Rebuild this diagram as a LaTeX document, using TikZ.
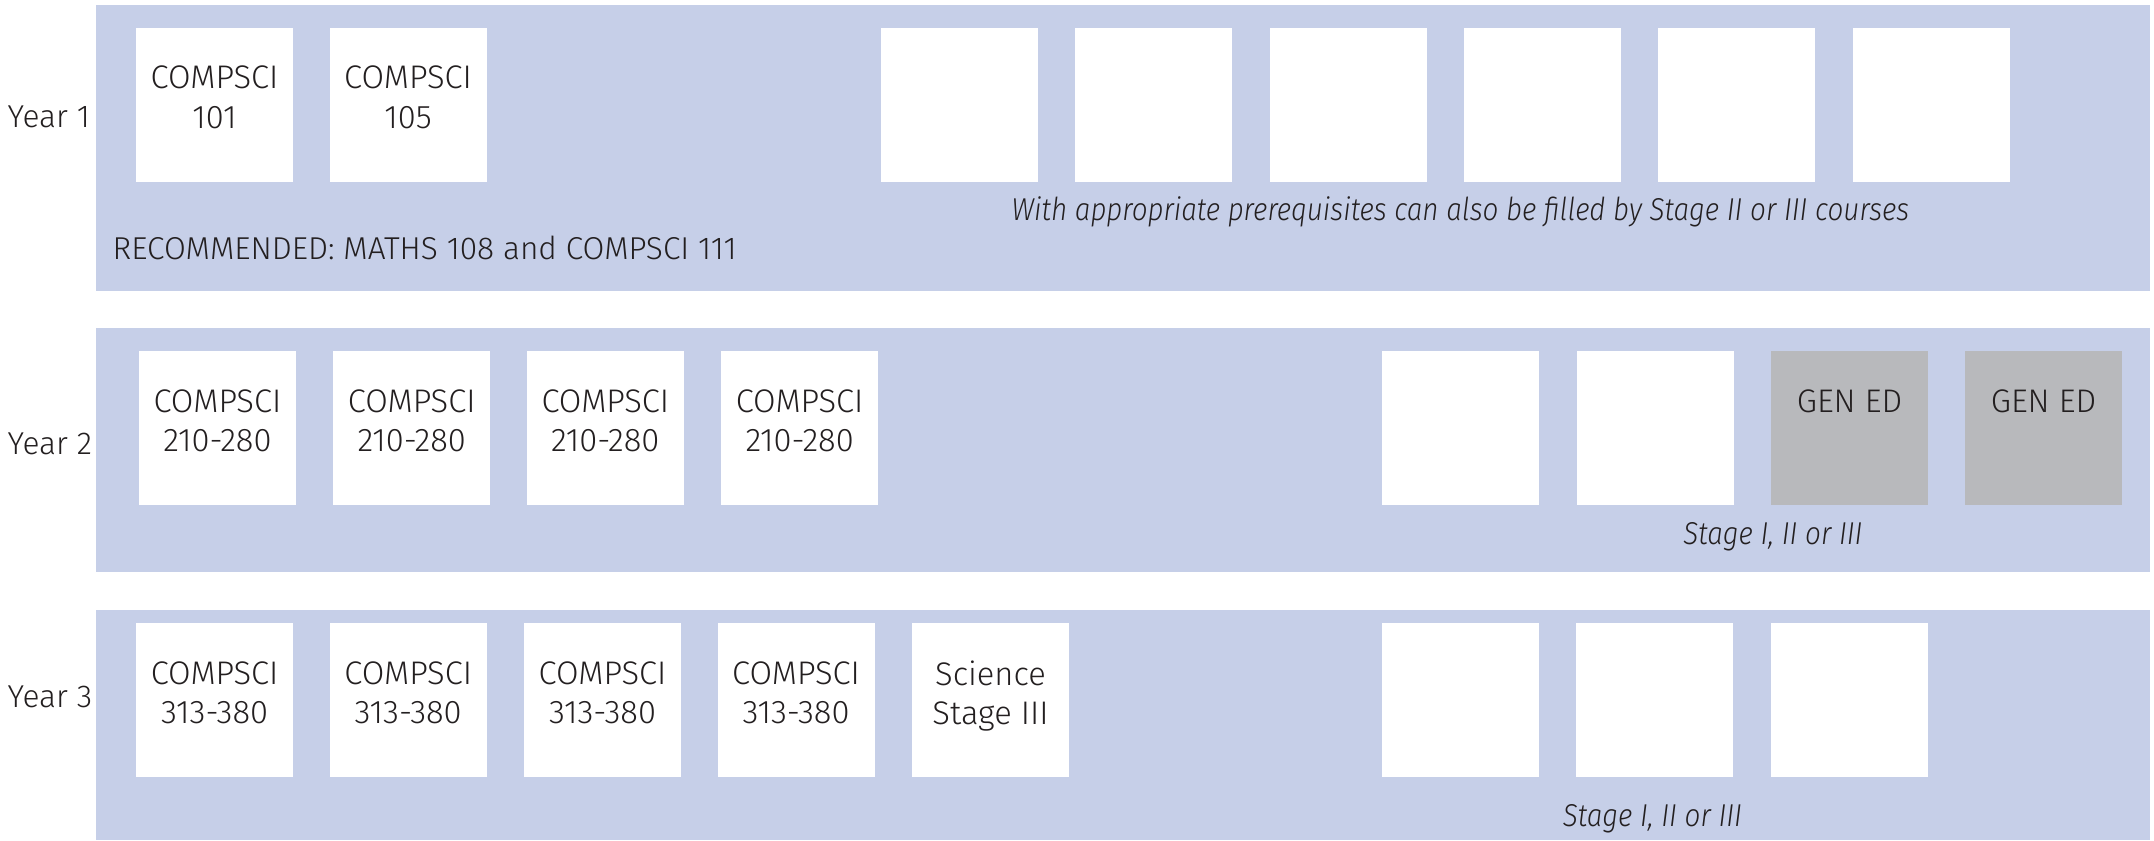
\documentclass[tikz,border=0pt]{standalone}
\usepackage{fontspec}
\setmainfont{Fira Sans Light}[ItalicFont={Fira Sans Light Italic}]
\newfontfamily\notefont{Fira Sans Light}[ItalicFont={Fira Sans Light Italic}, FakeStretch=0.88]
\definecolor{bandblue}{HTML}{C6CFE8}
\definecolor{genedgray}{HTML}{B8B9BC}
\definecolor{inkgray}{HTML}{231F20}
\tikzset{
  band/.style={fill=bandblue},
  course/.style={fill=white, minimum width=1.57cm, minimum height=1.535cm, inner sep=0pt},
  gened/.style={course, fill=genedgray},
  ctext/.style={anchor=north, yshift=-0.38cm, inner sep=0pt, align=center, text=inkgray,
    font=\fontsize{9.3}{11.1}\selectfont},
  yearlabel/.style={anchor=base west, inner sep=0pt, text=inkgray, font=\fontsize{9}{11}\selectfont},
  note/.style={anchor=base, inner sep=0pt, text=inkgray, font=\fontsize{9}{11}\selectfont\notefont\itshape}
}
\begin{document}
\begin{tikzpicture}[y=1cm, x=1cm]
\useasboundingbox (0,0) rectangle (21.54,-8.4);
\fill[band] (0.96,-0.05) rectangle (21.50,-2.905);
\fill[band] (0.96,-3.28) rectangle (21.50,-5.715);
\fill[band] (0.96,-6.10) rectangle (21.50,-8.4);
% year 1
\node[yearlabel] (y1) at (0.07,-1.273) {Year 1};
\node[course] (c101) at (2.145,-1.05) {};
\node[ctext] (c101t) at (c101.north) {COMPSCI\\101};
\node[course] (c105) at (4.08,-1.05) {};
\node[ctext] (c105t) at (c105.north) {COMPSCI\\105};
\node[course] (e11) at (9.595,-1.05) {};
\node[course] (e12) at (11.538,-1.05) {};
\node[course] (e13) at (13.481,-1.05) {};
\node[course] (e14) at (15.424,-1.05) {};
\node[course] (e15) at (17.367,-1.05) {};
\node[course] (e16) at (19.31,-1.05) {};
\node[note] (n1) at (14.605,-2.20) {With appropriate prerequisites can also be filled by Stage II or III courses};
\node[yearlabel] (rec) at (1.12,-2.593) {RECOMMENDED: MATHS 108 and COMPSCI 111};
% year 2
\node[yearlabel] (y2) at (0.07,-4.54) {Year 2};
\node[course] (c21) at (2.174,-4.28) {};
\node[ctext] (c21t) at (c21.north) {COMPSCI\\210-280};
\node[course] (c22) at (4.117,-4.28) {};
\node[ctext] (c22t) at (c22.north) {COMPSCI\\210-280};
\node[course] (c23) at (6.053,-4.28) {};
\node[ctext] (c23t) at (c23.north) {COMPSCI\\210-280};
\node[course] (c24) at (7.996,-4.28) {};
\node[ctext] (c24t) at (c24.north) {COMPSCI\\210-280};
\node[course] (e21) at (14.605,-4.28) {};
\node[course] (e22) at (16.55,-4.28) {};
\node[gened] (g1) at (18.495,-4.28) {};
\node[ctext] (g1t) at (g1.north) {GEN ED};
\node[gened] (g2) at (20.435,-4.28) {};
\node[ctext] (g2t) at (g2.north) {GEN ED};
\node[note] (n2) at (17.73,-5.443) {Stage I, II or III};
% year 3
\node[yearlabel] (y3) at (0.07,-7.073) {Year 3};
\node[course] (c31) at (2.146,-7.0) {};
\node[ctext] (c31t) at (c31.north) {COMPSCI\\313-380};
\node[course] (c32) at (4.082,-7.0) {};
\node[ctext] (c32t) at (c32.north) {COMPSCI\\313-380};
\node[course] (c33) at (6.025,-7.0) {};
\node[ctext] (c33t) at (c33.north) {COMPSCI\\313-380};
\node[course] (c34) at (7.96,-7.0) {};
\node[ctext] (c34t) at (c34.north) {COMPSCI\\313-380};
\node[course] (c35) at (9.905,-7.0) {};
\node[ctext] (c35t) at (c35.north) {Science\\Stage III};
\node[course] (e31) at (14.60,-7.0) {};
\node[course] (e32) at (16.545,-7.0) {};
\node[course] (e33) at (18.49,-7.0) {};
\node[note] (n3) at (16.525,-8.267) {Stage I, II or III};
\end{tikzpicture}
\end{document}
